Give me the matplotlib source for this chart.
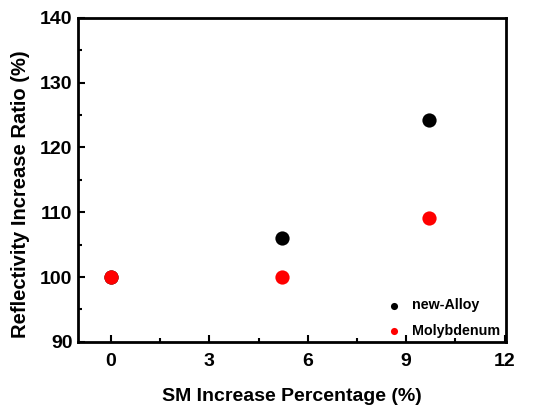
import matplotlib
matplotlib.use("Agg")
import matplotlib.pyplot as plt
from matplotlib.ticker import MultipleLocator

plt.rcParams['font.family'] = ['Liberation Sans', 'DejaVu Sans']
plt.rcParams['font.weight'] = 'bold'

sm_pct = [0, 5.23, 9.69]
new_alloy = [100, 106.05, 124.3]
molybdenum = [100, 100, 109.05]

fig = plt.figure(figsize=(5.42, 4.05), dpi=100)
ax = fig.add_axes([0.144, 0.156, 0.790, 0.800])

ax.scatter(sm_pct, new_alloy, s=105, color='black', label='new-Alloy', zorder=3, linewidths=0)
ax.scatter(sm_pct, molybdenum, s=105, color='#ff0000', label='Molybdenum', zorder=4, linewidths=0)

ax.set_xlim(-1, 12.05)
ax.set_ylim(90, 140)
ax.xaxis.set_major_locator(MultipleLocator(3))
ax.xaxis.set_minor_locator(MultipleLocator(1.5))
ax.yaxis.set_major_locator(MultipleLocator(10))
ax.yaxis.set_minor_locator(MultipleLocator(5))
ax.tick_params(which='both', direction='in', top=False, right=False, width=1.5)
ax.tick_params(which='major', length=5, labelsize=14)
ax.tick_params(axis='x', which='major', pad=8)
ax.tick_params(axis='y', which='major', pad=4)
ax.tick_params(which='minor', length=3)
for sp in ax.spines.values():
    sp.set_linewidth(2.0)
for lab in ax.get_xticklabels() + ax.get_yticklabels():
    lab.set_fontweight('bold')

ax.set_xlabel('SM Increase Percentage (%)', fontsize=14, fontweight='bold', labelpad=13)
ax.set_ylabel('Reflectivity Increase Ratio (%)', fontsize=14.5, fontweight='bold')
ax.yaxis.set_label_coords(-0.112, 0.457)

leg = ax.legend(loc='lower right', frameon=False, fontsize=10.3, markerscale=0.5,
                handletextpad=0.75, labelspacing=0.8, borderaxespad=0.0,
                bbox_to_anchor=(1.0, -0.005), handlelength=1.0)
for t in leg.get_texts():
    t.set_fontweight('bold')

fig.savefig('out.png', dpi=100)
